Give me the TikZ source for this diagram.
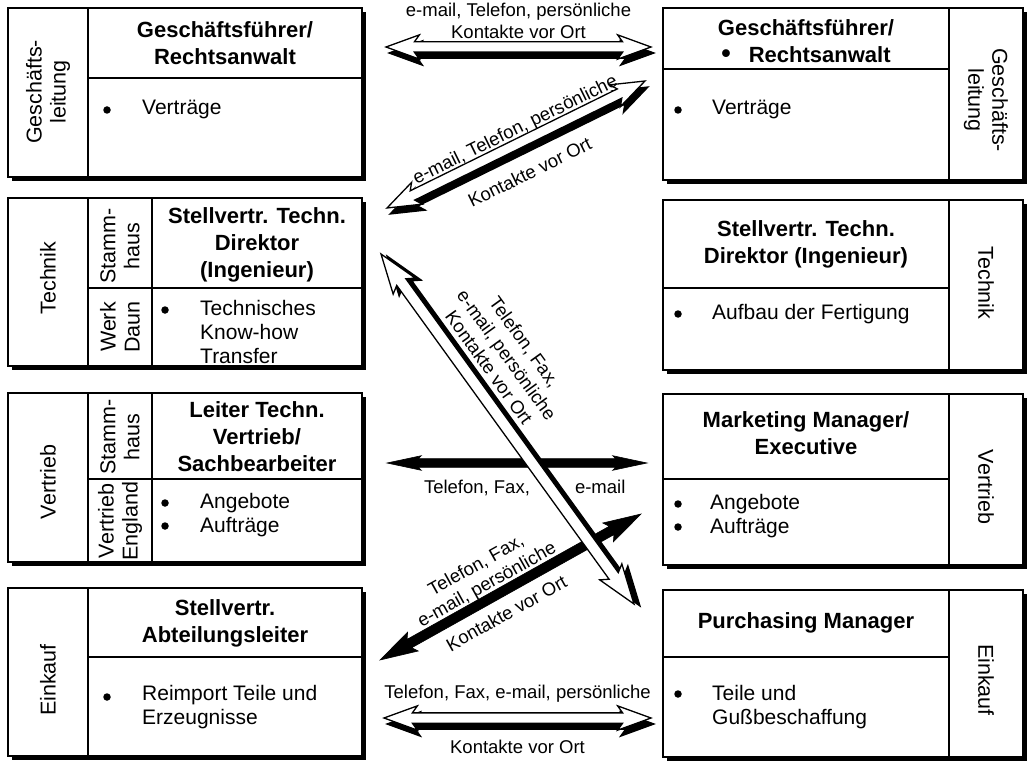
\documentclass[tikz,border=0pt]{standalone}
\usepackage{fontspec}
\setmainfont{Liberation Sans}
\usetikzlibrary{calc}
\usetikzlibrary{shapes.arrows}

% arrow with a black shadow: name, from, to, shadow shift, style
\newcommand{\hollowarrow}[5]{%
  \path let \p1=($(#3)-(#2)$), \n1={veclen(\x1,\y1)}, \n2={atan2(\y1,\x1)} in
    node[#5, fill=black, minimum height=\n1, rotate=\n2] (#1s) at ($(#2)!.5!(#3)+(#4)$) {}
    node[#5, fill=white, minimum height=\n1, rotate=\n2] (#1) at ($(#2)!.5!(#3)$) {};}
% filled arrow: name, from, to, style
\newcommand{\solidarrow}[4]{%
  \path let \p1=($(#3)-(#2)$), \n1={veclen(\x1,\y1)}, \n2={atan2(\y1,\x1)} in
    node[#4, fill=black, minimum height=\n1, rotate=\n2] (#1) at ($(#2)!.5!(#3)$) {};}

\begin{document}
\begin{tikzpicture}[x=1pt, y=-1pt,
    box/.style={draw, line width=1.4pt, fill=white},
    boxshadow/.style={fill=black},
    rule/.style={line width=1.2pt},
    head/.style={font=\fontsize{22}{27}\selectfont\bfseries, align=center},
    body/.style={font=\fontsize{21}{24}\selectfont, align=left, anchor=north west, inner sep=0pt},
    dot/.style={circle, fill=black, inner sep=0pt, minimum size=7.5pt},
    side/.style={font=\fontsize{21.5}{24}\selectfont, align=center},
    lbl/.style={font=\fontsize{18.5}{22}\selectfont, align=center, inner sep=0pt},
    arrowbase/.style={double arrow, draw=black, inner xsep=0pt, minimum width=0pt},
    openarrow/.style={arrowbase, line width=1.3pt, inner ysep=4.5pt, double arrow head extend=7pt, double arrow tip angle=40, double arrow head indent=5pt},
    longarrow/.style={arrowbase, line width=1.3pt, inner ysep=5pt, double arrow head extend=8pt, double arrow tip angle=38, double arrow head indent=5pt},
    thinblack/.style={arrowbase, line width=.6pt, inner ysep=4pt, double arrow head extend=3pt, double arrow tip angle=24, double arrow head indent=3pt},
    blackarrow/.style={arrowbase, line width=.6pt, inner ysep=4.5pt, double arrow head extend=6pt, double arrow tip angle=32, double arrow head indent=4pt}]
    \useasboundingbox (0,0) rectangle (1028,762);
    %%%BOXES%%%
    %left
    \fill[boxshadow] (12,12) rectangle (366,181);
    \draw[box] (8,8) rectangle (362,177);
    \draw[rule] (88,8)--(88,177) (88,78)--(362,78);
    \fill[boxshadow] (12,202) rectangle (366,370);
    \draw[box] (8,198) rectangle (362,366);
    \draw[rule] (88,198)--(88,366) (152,198)--(152,366) (88,288)--(362,288);
    \fill[boxshadow] (12,397) rectangle (366,566);
    \draw[box] (8,393) rectangle (362,562);
    \draw[rule] (88,393)--(88,562) (152,393)--(152,562) (88,479)--(362,479);
    \fill[boxshadow] (12,592) rectangle (366,760);
    \draw[box] (8,588) rectangle (362,756);
    \draw[rule] (88,588)--(88,756) (88,657)--(362,657);
    %right
    \fill[boxshadow] (667,12) rectangle (1027,184);
    \draw[box] (663,8) rectangle (1023,180);
    \draw[rule] (949,8)--(949,180) (663,69)--(949,69);
    \fill[boxshadow] (667,204) rectangle (1027,374);
    \draw[box] (663,200) rectangle (1023,370);
    \draw[rule] (949,200)--(949,370) (663,288)--(949,288);
    \fill[boxshadow] (667,398) rectangle (1027,569);
    \draw[box] (663,394) rectangle (1023,565);
    \draw[rule] (949,394)--(949,565) (663,479)--(949,479);
    \fill[boxshadow] (667,594) rectangle (1027,761);
    \draw[box] (663,590) rectangle (1023,757);
    \draw[rule] (949,590)--(949,757) (663,657)--(949,657);
    %%%TEXTS%%%
    %left
    \node[side, rotate=90] (l1side) at (48,92) {Geschäfts-\\leitung};
    \node[head] (l1head) at (225,43) {Geschäftsführer/\\Rechtsanwalt};
    \node[dot] (l1dot) at (107,110) {};
    \node[body] (l1body) at (142,100) {Verträge};
    \node[side, rotate=90] (l2side) at (48,278) {Technik};
    \node[side, rotate=90] (l2home) at (120,246) {Stamm-\\haus};
    \node[side, rotate=90] (l2plant) at (120,327) {Werk\\Daun};
    \node[head] (l2head) at (257,245) {Stellvertr. Techn.\\Direktor\\(Ingenieur)};
    \node[dot] (l2dot) at (165,310) {};
    \node[body] (l2body) at (200,300) {Technisches\\Know-how\\Transfer};
    \node[side, rotate=90] (l3side) at (48,482) {Vertrieb};
    \node[side, rotate=90] (l3home) at (120,437) {Stamm-\\haus};
    \node[side, rotate=90] (l3uk) at (120,521) {Vertrieb\\England};
    \node[head] (l3head) at (257,437) {Leiter Techn.\\Vertrieb/\\Sachbearbeiter};
    \node[dot] (l3dota) at (165,503) {};
    \node[dot] (l3dotb) at (165,526) {};
    \node[body] (l3body) at (200,493) {Angebote\\Aufträge};
    \node[side, rotate=90] (l4side) at (48,680) {Einkauf};
    \node[head] (l4head) at (225,623) {Stellvertr.\\Abteilungsleiter};
    \node[dot] (l4dot) at (107,697) {};
    \node[body] (l4body) at (142,685) {Reimport Teile und\\Erzeugnisse};
    %right
    \node[side, rotate=-90] (r1side) at (986,100) {Geschäfts-\\leitung};
    \node[head] (r1head) at (806,41) {Geschäftsführer/\\{\fontsize{27}{27}\selectfont\textbullet}\hspace{18pt}Rechtsanwalt};
    \node[dot] (r1dot) at (678,110) {};
    \node[body] (r1body) at (712,100) {Verträge};
    \node[side, rotate=-90] (r2side) at (986,283) {Technik};
    \node[head] (r2head) at (806,244) {Stellvertr. Techn.\\Direktor (Ingenieur)};
    \node[dot] (r2dot) at (678,314) {};
    \node[body] (r2body) at (712,304) {Aufbau der Fertigung};
    \node[side, rotate=-90] (r3side) at (986,487) {Vertrieb};
    \node[head] (r3head) at (806,433) {Marketing Manager/\\Executive};
    \node[dot] (r3dota) at (678,504) {};
    \node[dot] (r3dotb) at (678,527) {};
    \node[body] (r3body) at (710,494) {Angebote\\Aufträge};
    \node[side, rotate=-90] (r4side) at (986,680) {Einkauf};
    \node[head] (r4head) at (806,623) {Purchasing Manager};
    \node[dot] (r4dot) at (678,694) {};
    \node[body] (r4body) at (712,685) {Teile und\\Gußbeschaffung};
    %%%ARROWS%%%
    \coordinate (a1l) at (386,47);
    \coordinate (a1r) at (651,47);
    \coordinate (a2l) at (387,208);
    \coordinate (a2r) at (645,81);
    \coordinate (a3t) at (381,254);
    \coordinate (a3b) at (634,604);
    \coordinate (a4l) at (387,463);
    \coordinate (a4r) at (647,463);
    \coordinate (a5l) at (380,660);
    \coordinate (a5r) at (641,514);
    \coordinate (a6l) at (384,718);
    \coordinate (a6r) at (651,718);
    \hollowarrow{a1}{a1l}{a1r}{3,6}{openarrow}
    \hollowarrow{a2}{a2l}{a2r}{3,6}{openarrow}
    \hollowarrow{a6}{a6l}{a6r}{3,6}{openarrow}
    \solidarrow{a4}{a4l}{a4r}{thinblack}
    \solidarrow{a5}{a5l}{a5r}{blackarrow}
    \hollowarrow{a3}{a3t}{a3b}{6,2}{longarrow}
    %labels
    \path (a1l) -- node[lbl, above=8pt] (a1lbl) {e-mail, Telefon, persönliche\\Kontakte vor Ort} (a1r);
    \path (a2l) -- node[lbl, sloped, pos=.52, above=4pt] (a2top) {e-mail, Telefon, persönliche}
                   node[lbl, sloped, pos=.5, below=24pt] (a2bot) {Kontakte vor Ort} (a2r);
    \path (a3t) -- node[lbl, sloped, pos=.36, above=14pt] (a3lbl) {Telefon, Fax,\\e-mail, persönliche\\Kontakte vor Ort} (a3b);
    \path (a4l) -- node[lbl, pos=.346, below=17pt] (a4left) {Telefon, Fax,}
                   node[lbl, pos=.82, below=17pt] (a4right) {e-mail} (a4r);
    \path (a5l) -- node[lbl, sloped, pos=.435, above=4pt] (a5top) {Telefon, Fax,\\e-mail, persönliche}
                   node[lbl, sloped, pos=.445, below=14pt] (a5bot) {Kontakte vor Ort} (a5r);
    \path (a6l) -- node[lbl, above=15pt] (a6top) {Telefon, Fax, e-mail, persönliche}
                   node[lbl, below=22pt] (a6bot) {Kontakte vor Ort} (a6r);
\end{tikzpicture}
\end{document}
